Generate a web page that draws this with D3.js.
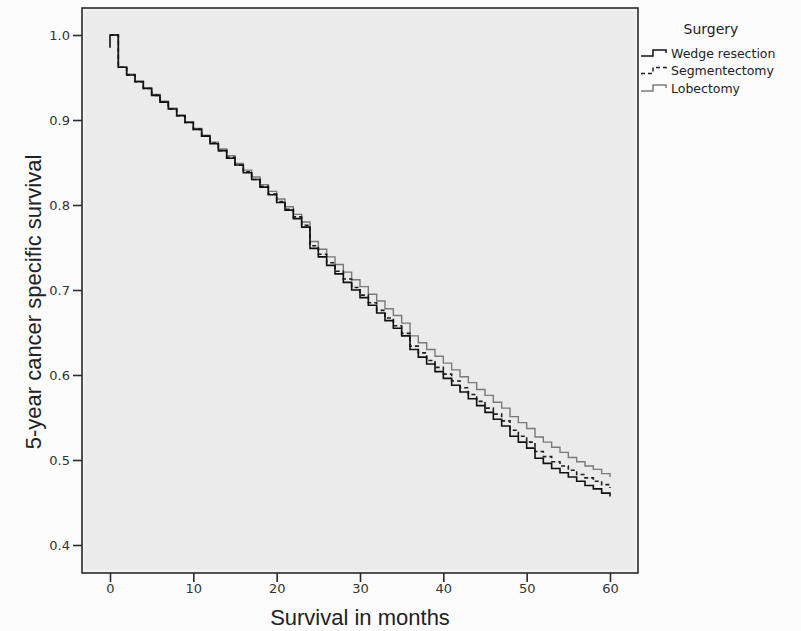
<!DOCTYPE html>
<html>
<head>
<meta charset="utf-8">
<script src="https://cdn.jsdelivr.net/npm/d3@7/dist/d3.min.js"></script>
<style>
  html, body { margin: 0; padding: 0; background: #fcfcfc; }
  svg { display: block; }
</style>
</head>
<body>
<svg id="chart" width="801" height="631"></svg>
<script>
// Kaplan-Meier cancer-specific survival by type of surgery, monthly steps 0..60
const months = d3.range(0, 61);

const wedgeResection = [
  1.000, 0.962, 0.953, 0.945, 0.937, 0.929, 0.921, 0.913, 0.905, 0.897,
  0.889, 0.881, 0.872, 0.864, 0.855, 0.847, 0.838, 0.830, 0.821, 0.812,
  0.803, 0.794, 0.784, 0.774, 0.749, 0.739, 0.729, 0.719, 0.709, 0.700,
  0.691, 0.682, 0.673, 0.664, 0.655, 0.646, 0.630, 0.621, 0.613, 0.604,
  0.596, 0.588, 0.580, 0.572, 0.564, 0.556, 0.548, 0.540, 0.528, 0.521,
  0.514, 0.502, 0.496, 0.490, 0.485, 0.480, 0.475, 0.470, 0.466, 0.461,
  0.457
];

const segmentectomy = [
  1.000, 0.962, 0.953, 0.945, 0.937, 0.929, 0.921, 0.913, 0.905, 0.897,
  0.889, 0.881, 0.873, 0.864, 0.856, 0.847, 0.839, 0.830, 0.822, 0.813,
  0.804, 0.795, 0.786, 0.776, 0.752, 0.742, 0.732, 0.722, 0.713, 0.703,
  0.694, 0.685, 0.676, 0.667, 0.658, 0.649, 0.634, 0.626, 0.617, 0.609,
  0.601, 0.593, 0.585, 0.577, 0.569, 0.561, 0.554, 0.546, 0.535, 0.528,
  0.521, 0.510, 0.504, 0.498, 0.493, 0.488, 0.483, 0.479, 0.475, 0.471,
  0.467
];

const lobectomy = [
  1.000, 0.962, 0.954, 0.946, 0.938, 0.930, 0.922, 0.914, 0.906, 0.898,
  0.890, 0.882, 0.874, 0.866, 0.858, 0.849, 0.841, 0.833, 0.824, 0.816,
  0.807, 0.798, 0.789, 0.780, 0.757, 0.748, 0.739, 0.730, 0.721, 0.712,
  0.704, 0.695, 0.687, 0.678, 0.670, 0.661, 0.646, 0.638, 0.630, 0.622,
  0.614, 0.606, 0.598, 0.591, 0.583, 0.576, 0.568, 0.561, 0.551, 0.544,
  0.537, 0.527, 0.521, 0.515, 0.509, 0.503, 0.498, 0.493, 0.489, 0.484,
  0.480
];

// survival of the wedge group just after the events recorded at month 0
const wedgeAtZero = 0.985;

const xTicks = [0, 10, 20, 30, 40, 50, 60];
const yTicks = [0.4, 0.5, 0.6, 0.7, 0.8, 0.9, 1.0];
const legendTitle = "Surgery";
const seriesNames = ["Wedge resection", "Segmentectomy", "Lobectomy"];

const svg = d3.select("#chart");

// frame of the plotting area
const frame = { left: 82, right: 638, top: 8, bottom: 573 };

const x = d3.scaleLinear().domain([0, 60]).range([110, 610]);
const y = d3.scaleLinear().domain([0.4, 1.0]).range([545, 35]);

svg.append("rect")
  .attr("x", frame.left).attr("y", frame.top)
  .attr("width", frame.right - frame.left).attr("height", frame.bottom - frame.top)
  .attr("fill", "#ebebeb");

// faint inner rim inside the frame
svg.append("rect")
  .attr("x", frame.left + 2).attr("y", frame.top + 2)
  .attr("width", frame.right - frame.left - 4).attr("height", frame.bottom - frame.top - 4)
  .attr("fill", "none").attr("stroke", "#f4f4f4").attr("stroke-width", 1.5);

svg.append("rect")
  .attr("x", frame.left).attr("y", frame.top)
  .attr("width", frame.right - frame.left).attr("height", frame.bottom - frame.top)
  .attr("fill", "none").attr("stroke", "#2a2a2a").attr("stroke-width", 1.6);

// axes
const xAxis = d3.axisBottom(x).tickValues(xTicks).tickFormat(d3.format("d"))
  .tickSize(9).tickSizeOuter(0);
const gx = svg.append("g").attr("transform", `translate(0,${frame.bottom})`).call(xAxis);
gx.select(".domain").remove();
gx.selectAll(".tick line").attr("stroke", "#2a2a2a").attr("stroke-width", 1.6);
gx.selectAll(".tick text")
  .attr("font-family", "DejaVu Sans, sans-serif").attr("font-size", 13)
  .attr("fill", "#333").attr("dy", "0.6em").attr("y", 12);

const yAxis = d3.axisLeft(y).tickValues(yTicks).tickFormat(d3.format(".1f"))
  .tickSize(9).tickSizeOuter(0);
const gy = svg.append("g").attr("transform", `translate(${frame.left},0)`).call(yAxis);
gy.select(".domain").remove();
gy.selectAll(".tick line").attr("stroke", "#2a2a2a").attr("stroke-width", 1.6);
gy.selectAll(".tick text")
  .attr("font-family", "DejaVu Sans, sans-serif").attr("font-size", 13)
  .attr("fill", "#333").attr("x", -12);

// axis titles
svg.append("text")
  .attr("x", 360).attr("y", 625)
  .attr("text-anchor", "middle")
  .attr("font-family", "Liberation Sans, Arial, sans-serif").attr("font-size", 22)
  .attr("fill", "#222")
  .text("Survival in months");

svg.append("text")
  .attr("transform", "translate(41,302) rotate(-90)")
  .attr("text-anchor", "middle")
  .attr("font-family", "Liberation Sans, Arial, sans-serif").attr("font-size", 22)
  .attr("fill", "#222")
  .text("5-year cancer specific survival");

// survival curves
const step = d3.line()
  .x(d => x(d[0]))
  .y(d => y(d[1]))
  .curve(d3.curveStepAfter);

const toPoints = vals => months.map((m, i) => [m, vals[i]]);

const series = [
  { name: seriesNames[2], points: toPoints(lobectomy), color: "#7a7a7a", width: 1.4, dash: null },
  { name: seriesNames[1], points: toPoints(segmentectomy), color: "#1e1e1e", width: 1.6, dash: "4,3" },
  { name: seriesNames[0], points: [[0, wedgeAtZero]].concat(toPoints(wedgeResection)), color: "#111", width: 1.6, dash: null }
];

svg.append("g").selectAll("path")
  .data(series)
  .join("path")
  .attr("d", d => step(d.points))
  .attr("fill", "none")
  .attr("stroke", d => d.color)
  .attr("stroke-width", d => d.width)
  .attr("stroke-dasharray", d => d.dash);

// legend
const legend = svg.append("g");
legend.append("text")
  .attr("x", 711).attr("y", 34)
  .attr("text-anchor", "middle")
  .attr("font-family", "DejaVu Sans, sans-serif").attr("font-size", 14)
  .attr("fill", "#222")
  .text(legendTitle);

const legendItems = [
  { name: seriesNames[0], color: "#111", dash: null },
  { name: seriesNames[1], color: "#1e1e1e", dash: "4,3" },
  { name: seriesNames[2], color: "#7a7a7a", dash: null }
];

const ly = d3.scalePoint().domain(seriesNames).range([53, 88]);

legendItems.forEach(item => {
  const cy = ly(item.name);
  legend.append("path")
    .attr("d", `M641,${cy + 3}H653V${cy - 3}H666V${cy}`)
    .attr("fill", "none")
    .attr("stroke", item.color)
    .attr("stroke-width", 1.5)
    .attr("stroke-dasharray", item.dash);
  legend.append("text")
    .attr("x", 671).attr("y", cy + 4.5)
    .attr("font-family", "DejaVu Sans, sans-serif").attr("font-size", 12.5)
    .attr("fill", "#222")
    .text(item.name);
});
</script>
</body>
</html>
